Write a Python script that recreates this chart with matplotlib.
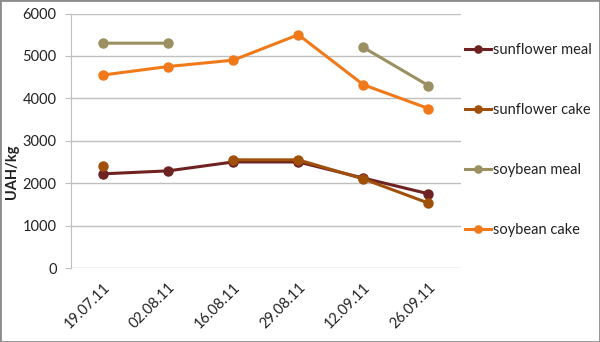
import numpy as np
import matplotlib.pyplot as plt
from matplotlib.patches import Rectangle

plt.rcParams['font.family'] = ['Lato', 'DejaVu Sans']

dates = ["19.07.11", "02.08.11", "16.08.11", "29.08.11", "12.09.11", "26.09.11"]
sunflower_meal = [2220, 2290, 2500, 2500, 2120, 1750]
sunflower_cake = [2400, np.nan, 2550, 2550, 2100, 1530]
soybean_meal = [5300, 5300, np.nan, np.nan, 5200, 4300]
soybean_cake = [4550, 4750, 4900, 5500, 4320, 3760]

series = [
    ("sunflower meal", sunflower_meal, "#6E2222"),
    ("sunflower cake", sunflower_cake, "#A0500A"),
    ("soybean meal", soybean_meal, "#9A9062"),
    ("soybean cake", soybean_cake, "#F07A1A"),
]

fig = plt.figure(figsize=(6, 3.42), dpi=100)
ax = fig.add_axes([70.5 / 600, 74 / 342, 390.5 / 600, 254.5 / 342])

x = np.arange(len(dates))
for name, vals, col in series:
    ax.plot(x, vals, '-o', color=col, lw=2.2, ms=6.5, label=name)

ax.set_xlim(-0.5, len(dates) - 0.5)
ax.set_ylim(0, 6000)
ax.set_yticks(range(0, 6001, 1000))
ax.set_xticks(x)
ax.set_xticklabels(dates, rotation=45, ha='right', va='top', rotation_mode='anchor')
ax.tick_params(axis='x', length=0, pad=9, labelsize=10.5, colors='#222222')
ax.tick_params(axis='y', length=4, color='#BFBFBF', pad=6, labelsize=10.5, colors='#222222')

ax.grid(axis='y', color='#BFBFBF', lw=1)
ax.set_axisbelow(True)
for side in ['top', 'right', 'bottom']:
    ax.spines[side].set_visible(False)
ax.spines['left'].set_color('#BFBFBF')

fig.text(12 / 600, 1 - 172 / 342, "UAH/kg", rotation=90, ha='center', va='center',
         fontsize=10.5, fontweight='bold', color='#222222')

leg = ax.legend(loc='upper left', bbox_to_anchor=(465 / 600, 1 - 43 / 342),
                bbox_transform=fig.transFigure, frameon=False, fontsize=10.5,
                labelspacing=3.15, handlelength=1.75, handletextpad=0.15,
                markerscale=0.8, borderaxespad=0, borderpad=0)
for t in leg.get_texts():
    t.set_color('#222222')

# outer frame
fig.patches.append(Rectangle((0, 0), 1, 1, transform=fig.transFigure, fill=False,
                             edgecolor='#8C8C8C', lw=2))

fig.savefig("out.png", dpi=100)
